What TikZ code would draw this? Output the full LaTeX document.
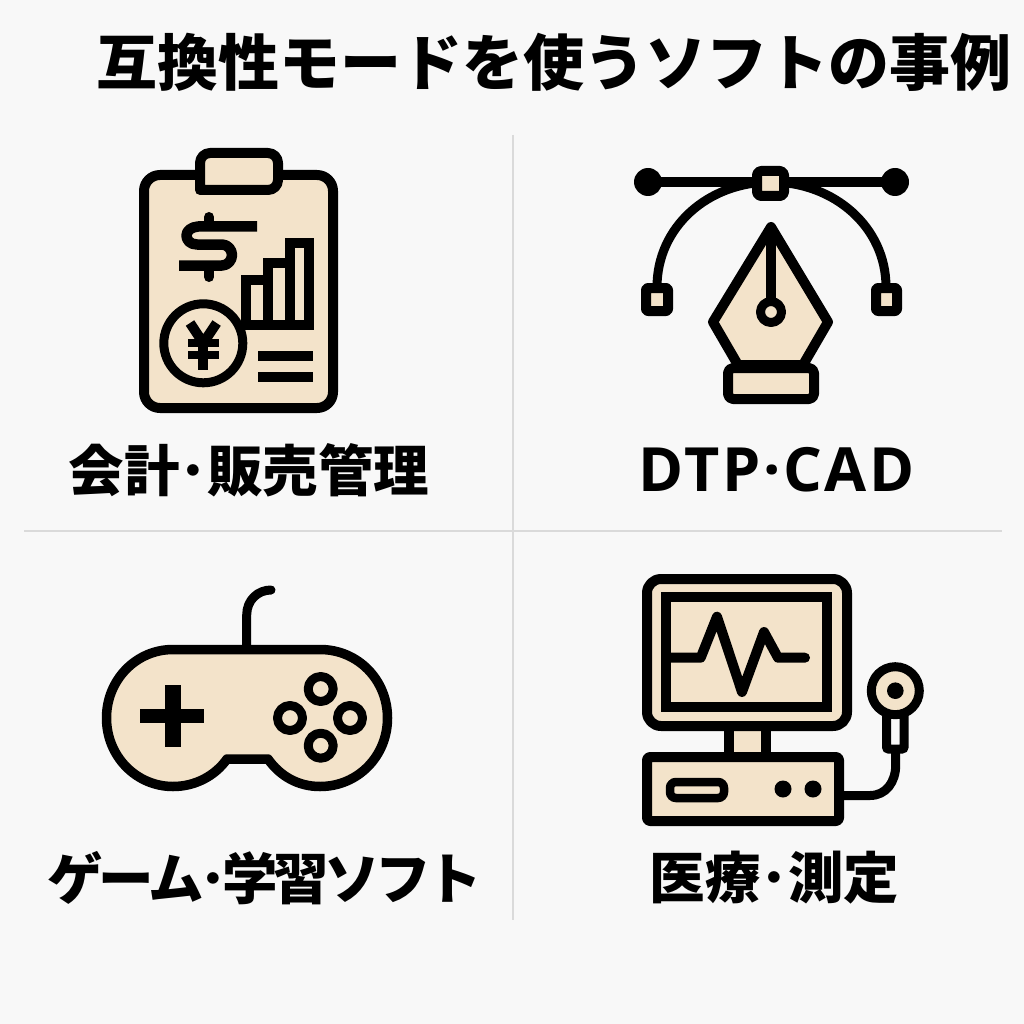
\documentclass[tikz,border=0pt]{standalone}
\usepackage{fontspec}
\newfontfamily\jpfont[BoldFont=Noto Sans CJK JP Black]{Noto Sans CJK JP}
\newfontfamily\latinfont[BoldFont=Open Sans Bold]{Open Sans}
\definecolor{beige}{HTML}{F3E3CA}
\definecolor{paper}{HTML}{F8F8F8}
\definecolor{rule}{HTML}{DADADA}
\tikzset{
  icon/.style={draw=black,line width=10pt,fill=beige,line join=round},
  ink/.style={draw=black,line width=10pt,line join=round},
  blob/.style={fill=black,draw=none},
  sep/.style={draw=rule,line width=2.5pt},
  titletext/.style={font=\jpfont\bfseries\fontsize{61}{61}\selectfont,inner sep=0pt,text=black},
  labeltext/.style={font=\jpfont\bfseries\fontsize{55.5}{56}\selectfont,inner sep=0pt,text=black}
}
\begin{document}
\begin{tikzpicture}[x=1pt,y=-1pt]
\path[use as bounding box,fill=paper] (0,0) rectangle (1024,1024);
\coordinate (v1) at (513,135); \coordinate (v2) at (513,920);
\coordinate (h1) at (24,531); \coordinate (h2) at (1002,531);
\draw[sep] (v1) -- (v2);
\draw[sep] (h1) -- (h2);
\node[titletext] (title) at (553.5,62) {互換性モードを使うソフトの事例};
\node[labeltext] (l1) at (249,470) {会計･販売管理};
\node[labeltext,font=\latinfont\bfseries\fontsize{61}{61}\selectfont] (l2) at (776.5,470) {\addfontfeature{LetterSpace=4.5}DTP·CAD};
\node[labeltext] (l3) at (265,878) {\addfontfeature{LetterSpace=-8}ゲーム･学習ソフト};
\node[labeltext] (l4) at (774.5,878) {医療･測定};
% clipboard
\draw[icon,rounded corners=16pt] (144,175) rectangle (333,408);
\draw[icon] (200,190) [rounded corners=10pt] -- (200,153) -- (278,153) -- (278,190) [sharp corners] -- cycle;
\draw[line width=10.5pt,line join=round] (257,226.5) -- (198,226.5) .. controls (191,227) and (186.5,231) .. (186.5,235.5) .. controls (186.5,240) and (190,244.5) .. (197,244.5) -- (222,244.5) .. controls (228,244.5) and (232,250) .. (232,255) .. controls (232,260) and (228,265.5) .. (222,265.5) -- (179,265.5);
\draw[line width=10pt,line cap=round] (209,217) -- (209,226);
\draw[line width=10pt,line cap=round] (209,266) -- (209,277);
\draw[ink,line join=miter] (245.5,324.5) -- (245.5,280) -- (267.5,280) -- (267.5,263) -- (289.5,263) -- (289.5,242.5) -- (308.5,242.5) -- (308.5,324.5) -- cycle;
\draw[ink] (267.5,280) -- (267.5,324.5);
\draw[ink] (289.5,263) -- (289.5,324.5);
\draw[icon,line width=9pt] (203.3,343.3) circle (39.5);
\draw[line width=10pt] (190,323) -- (203.3,343) -- (216.6,323);
\draw[line width=10pt] (203.3,343) -- (203.3,370);
\draw[line width=8.5pt] (188,343) -- (219,343);
\draw[line width=8.5pt] (188,355) -- (219,355);
\draw[line width=10pt] (258,356) -- (313,356);
\draw[line width=10pt] (258,377) -- (313,377);
% pen tool
\draw[ink,line cap=round] (648,182) -- (895,182);
\fill[blob] (648,182) circle (14);
\fill[blob] (895,182) circle (14);
\draw[ink,line width=9pt] (657,287) .. controls (657,227) and (708,182) .. (771,182);
\draw[ink,line width=9pt] (886,287) .. controls (886,227) and (834,182) .. (771,182);
\draw[icon,rounded corners=4pt] (757,171) rectangle (784,196);
\draw[icon,rounded corners=2pt] (646,288) rectangle (668,311);
\draw[icon,rounded corners=2pt] (876,288) rectangle (897,311);
\draw[icon] (771,227) -- (828,322) -- (803,365) -- (738,365) -- (713,322) -- cycle;
\draw[ink] (771,227) -- (771,302);
\draw[icon,line width=9pt] (771,312) circle (10.5);
\draw[icon,rounded corners=5pt] (728,368) rectangle (814,399);
% game pad
\draw[ink,line width=9pt,line cap=round] (246.7,648) -- (246.7,615) .. controls (246.7,600) and (258,590) .. (271,590);
\draw[icon,line width=9.5pt] (173,649.5) -- (320,649.5) .. controls (358,649.5) and (387.5,680) .. (387.5,718) .. controls (387.5,756) and (358,786.5) .. (320,786.5) .. controls (298,786.5) and (280,776) .. (268,759) -- (227,759) .. controls (215,776) and (195,786.5) .. (173,786.5) .. controls (136,786.5) and (106.5,756) .. (106.5,718) .. controls (106.5,680) and (136,649.5) .. (173,649.5) -- cycle;
\fill[blob] (140,709) rectangle (204,723);
\fill[blob] (165,685) rectangle (181,747);
\draw[ink,line width=9pt] (320.7,689) circle (12.5);
\draw[ink,line width=9pt] (320.7,745.7) circle (12.5);
\draw[ink,line width=9pt] (290,718) circle (12.5);
\draw[ink,line width=9pt] (350,718) circle (12.5);
% monitor
\draw[ink,line width=9pt] (844,795.5) -- (870,795.5) .. controls (886,795.5) and (895.7,782) .. (895.7,765) -- (895.7,745);
\draw[icon] (729,726) rectangle (765.5,757);
\draw[icon,rounded corners=14pt] (647,579) rectangle (847,726);
\draw[icon,line join=miter] (666,597) rectangle (827,707);
\draw[ink,line cap=round] (666,657.7) -- (700.7,657.7) -- (717,616.7) -- (742,692) -- (764,632) -- (778,657.7) -- (805,657.7);
\draw[icon,rounded corners=3pt] (647,757) rectangle (839,821);
\draw[line width=8.5pt,fill=beige,rounded corners=6pt] (670,782) rectangle (724,798);
\fill[blob] (783,789) circle (8.5);
\fill[blob] (813,789) circle (8.5);
\draw[line width=9pt,fill=paper,rounded corners=2pt] (886.5,712) rectangle (904,749);
\draw[icon,line width=9pt] (895.3,690.7) circle (24);
\fill[blob] (895.3,690.7) circle (8.3);
\end{tikzpicture}
\end{document}
